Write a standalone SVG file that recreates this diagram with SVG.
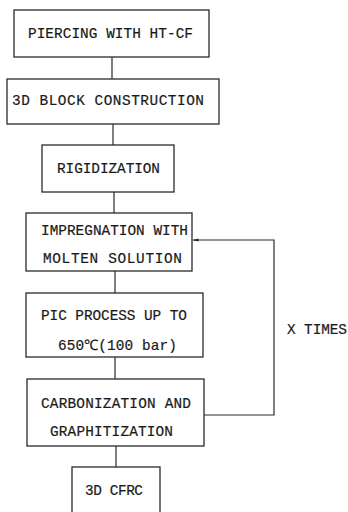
<svg xmlns="http://www.w3.org/2000/svg" width="348" height="512" viewBox="0 0 348 512">
<style>
.box{fill:#fff;stroke:#2a2a2a;stroke-width:1.3}
.t{font-family:"Liberation Mono","DejaVu Sans Mono",monospace;font-size:14.4px;fill:#1a1a1a;text-anchor:middle;stroke:#1a1a1a;stroke-width:0.2}
.c{fill:none;stroke:#2a2a2a;stroke-width:1.2}
</style>
<defs>
<marker id="ah" viewBox="0 0 6 6" refX="5.5" refY="3" markerWidth="6" markerHeight="6" orient="auto" markerUnits="userSpaceOnUse">
<path d="M0,1.5 L6,3 L0,4.5 Z" fill="#2a2a2a"/>
</marker>
</defs>
<rect width="348" height="512" fill="#fff"/>
<g id="connectors">
<line class="c" x1="112" y1="57" x2="112" y2="79"/>
<line class="c" x1="113" y1="124" x2="113" y2="145"/>
<line class="c" x1="114" y1="192" x2="114" y2="213"/>
<line class="c" x1="115" y1="271" x2="115" y2="293"/>
<line class="c" x1="115" y1="357" x2="115" y2="379"/>
<line class="c" x1="116" y1="446" x2="116" y2="467"/>
<polyline class="c" points="204,415 274,415 274,240 193,240" marker-end="url(#ah)"/>
</g>
<g id="n1">
<rect class="box" x="14" y="10" width="195" height="47"/>
<text class="t" x="110.5" y="38" textLength="165" lengthAdjust="spacing">PIERCING WITH HT-CF</text>
</g>
<g id="n2">
<rect class="box" x="7" y="79" width="212" height="45"/>
<text class="t" x="108" y="105" textLength="192" lengthAdjust="spacing">3D BLOCK CONSTRUCTION</text>
</g>
<g id="n3">
<rect class="box" x="42" y="145" width="132" height="47"/>
<text class="t" x="108.5" y="173" textLength="103" lengthAdjust="spacing">RIGIDIZATION</text>
</g>
<g id="n4">
<rect class="box" x="26" y="213" width="166" height="58"/>
<text class="t" x="114.5" y="235" textLength="147" lengthAdjust="spacing">IMPREGNATION WITH</text>
<text class="t" x="112.5" y="263" textLength="139" lengthAdjust="spacing">MOLTEN SOLUTION</text>
</g>
<g id="n5">
<rect class="box" x="26" y="293" width="177" height="64"/>
<text class="t" x="114" y="320" textLength="146" lengthAdjust="spacing">PIC PROCESS UP TO</text>
<text class="t" x="117.5" y="350" textLength="119" lengthAdjust="spacing">650℃(100 bar)</text>
</g>
<g id="n6">
<rect class="box" x="27" y="379" width="177" height="67"/>
<text class="t" x="116" y="408" textLength="150" lengthAdjust="spacing">CARBONIZATION AND</text>
<text class="t" x="111.5" y="436" textLength="123" lengthAdjust="spacing">GRAPHITIZATION</text>
</g>
<g id="n7">
<rect class="box" x="72" y="467" width="88" height="50"/>
<text class="t" x="114" y="495" textLength="58" lengthAdjust="spacing">3D CFRC</text>
</g>
<g id="label">
<text class="t" x="317" y="334" textLength="60" lengthAdjust="spacing">X TIMES</text>
</g>
</svg>
